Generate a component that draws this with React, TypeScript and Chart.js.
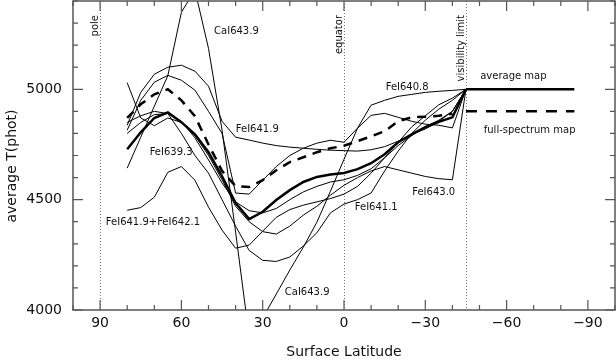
import React, { useEffect, useRef } from 'react';
import { Chart, registerables } from 'chart.js';

Chart.register(...registerables);

// Surface latitude grid (degrees)
const LAT = [80, 75, 70, 65, 60, 55, 50, 45, 40, 35, 30, 25, 20, 15, 10, 5, 0, -5, -10, -15, -20, -25, -30, -35, -40, -45];

// Thick lines
const AVG_MAP = [4728, 4805, 4870, 4895, 4851, 4796, 4715, 4606, 4484, 4412, 4445, 4498, 4543, 4580, 4603, 4614, 4621, 4638, 4665, 4706, 4760, 4796, 4828, 4853, 4873, 5000];
const FULL_SPECTRUM_MAP = [4870, 4932, 4977, 5000, 4950, 4878, 4750, 4630, 4561, 4557, 4588, 4633, 4670, 4692, 4715, 4733, 4744, 4765, 4787, 4810, 4855, 4873, 4876, 4880, 4889, null];

// Thin lines (individual spectral lines)
const CAI_643_9 = [4643, 4783, 4923, 5062, 5349, 5450, 5185, 4815, 4353, 3880, 3964, 4072, 4181, 4285, 4398, 4538, 4683, 4824, 4928, 4950, 4968, 4977, 4986, 4991, 4995, 5000];
const FEI_641_9 = [4837, 4986, 5068, 5100, 5109, 5082, 5014, 4855, 4783, 4770, 4756, 4745, 4738, 4733, 4728, 4724, 4722, 4720, 4726, 4740, 4765, 4796, 4820, 4855, 4900, 5000];
const FEI_640_8 = [4815, 4950, 5032, 5063, 5041, 4996, 4900, 4800, 4530, 4525, 4588, 4650, 4700, 4733, 4756, 4769, 4760, 4824, 4882, 4891, 4873, 4855, 4842, 4837, 4825, 5000];
const FEI_639_3 = [4800, 4850, 4885, 4890, 4855, 4780, 4680, 4575, 4490, 4450, 4440, 4460, 4500, 4535, 4560, 4580, 4590, 4610, 4640, 4690, 4745, 4790, 4830, 4860, 4900, 5000];
const FEI_643_0 = [5030, 4870, 4835, 4870, 4850, 4790, 4700, 4590, 4470, 4400, 4355, 4344, 4380, 4430, 4470, 4520, 4565, 4600, 4630, 4650, 4635, 4620, 4605, 4595, 4590, 5000];
const FEI_641_1 = [4850, 4880, 4900, 4890, 4800, 4700, 4620, 4500, 4380, 4270, 4225, 4220, 4240, 4290, 4350, 4440, 4480, 4500, 4530, 4630, 4720, 4800, 4860, 4910, 4950, 5000];
const FEI_641_9_642_1 = [4452, 4464, 4511, 4624, 4650, 4588, 4466, 4362, 4280, 4294, 4357, 4420, 4455, 4475, 4490, 4505, 4525, 4560, 4620, 4690, 4760, 4830, 4880, 4930, 4960, 5000];

// Legend segments
const LEGEND_LAT = [-45, -85];
const AVG_LEGEND_T = [5000, 5000];
const FULL_LEGEND_T = [4900, 4900];

// Axes
const X_TICKS = [90, 60, 30, 0, -30, -60, -90];
const Y_TICKS = [4000, 4500, 5000];
const X_RANGE = [-100, 100];
const Y_RANGE = [4000, 5400];

// Reference markers
const MARKER_LAT = [90, 0, -45];
const MARKER_TEXT = ['pole', 'equator', 'visibility limit'];

// Line labels (data coordinates)
const LABEL_TEXT = ['CaI643.9', 'FeI641.9', 'FeI639.3', 'FeI641.9+FeI642.1', 'CaI643.9', 'FeI640.8', 'FeI643.0', 'FeI641.1', 'average map', 'full-spectrum map'];
const LABEL_LAT = [39.7, 32.0, 63.8, 70.5, 13.6, -23.3, -33.1, -11.9, -62.5, -68.5];
const LABEL_T = [5262, 4816, 4713, 4396, 4081, 5010, 4532, 4464, 5060, 4812];

const FONT = 'DejaVu Sans';

function pts(lat: number[], vals: (number | null)[]) {
  const out: { x: number; y: number }[] = [];
  lat.forEach((x, i) => {
    const v = vals[i];
    if (v !== null && v !== undefined) out.push({ x, y: v });
  });
  return out;
}

function fmt(v: number) {
  return v < 0 ? '\u2212' + Math.abs(v) : String(v);
}

const decorPlugin = {
  id: 'decor',
  beforeDatasetsDraw(chart: any) {
    const { ctx, chartArea } = chart;
    const xs = chart.scales.x;
    ctx.save();
    ctx.strokeStyle = '#777';
    ctx.lineWidth = 1;
    ctx.setLineDash([1, 2]);
    MARKER_LAT.forEach((lat) => {
      const px = Math.round(xs.getPixelForValue(lat)) + 0.5;
      ctx.beginPath();
      ctx.moveTo(px, chartArea.top);
      ctx.lineTo(px, chartArea.bottom);
      ctx.stroke();
    });
    ctx.restore();
  },
  afterDraw(chart: any) {
    const { ctx, chartArea } = chart;
    const xs = chart.scales.x;
    const ys = chart.scales.y;
    const { left, right, top, bottom } = chartArea;
    ctx.save();
    // frame
    ctx.strokeStyle = '#555';
    ctx.lineWidth = 1.5;
    ctx.setLineDash([]);
    ctx.strokeRect(left, top, right - left, bottom - top);
    // ticks
    ctx.lineWidth = 1.2;
    for (let v = X_RANGE[0]; v <= X_RANGE[1]; v += 10) {
      const px = xs.getPixelForValue(v);
      const len = v % 30 === 0 ? 10 : 5;
      ctx.beginPath();
      ctx.moveTo(px, bottom);
      ctx.lineTo(px, bottom - len);
      ctx.moveTo(px, top);
      ctx.lineTo(px, top + len);
      ctx.stroke();
    }
    for (let v = Y_RANGE[0]; v <= Y_RANGE[1]; v += 100) {
      const py = ys.getPixelForValue(v);
      const len = v % 500 === 0 ? 10 : 5;
      ctx.beginPath();
      ctx.moveTo(left, py);
      ctx.lineTo(left + len, py);
      ctx.moveTo(right, py);
      ctx.lineTo(right - len, py);
      ctx.stroke();
    }
    // marker texts (vertical)
    ctx.fillStyle = '#111';
    ctx.font = `10px "${FONT}"`;
    ctx.textAlign = 'right';
    ctx.textBaseline = 'middle';
    MARKER_LAT.forEach((lat, i) => {
      const px = xs.getPixelForValue(lat);
      ctx.save();
      ctx.translate(px - 5, top + 14);
      ctx.rotate(-Math.PI / 2);
      ctx.fillText(MARKER_TEXT[i], 0, 0);
      ctx.restore();
    });
    // line labels
    ctx.textAlign = 'center';
    ctx.textBaseline = 'middle';
    LABEL_TEXT.forEach((t, i) => {
      ctx.fillText(t, xs.getPixelForValue(LABEL_LAT[i]), ys.getPixelForValue(LABEL_T[i]));
    });
    // axis titles
    ctx.font = `14px "${FONT}"`;
    ctx.fillStyle = '#111';
    ctx.fillText('Surface Latitude', (left + right) / 2, 352);
    ctx.save();
    ctx.translate(12, 166);
    ctx.rotate(-Math.PI / 2);
    ctx.fillText('average T(phot)', 0, 0);
    ctx.restore();
    ctx.restore();
  },
};

function zeroPad(s: any) {
  s.paddingTop = 0;
  s.paddingBottom = 0;
  s.paddingLeft = 0;
  s.paddingRight = 0;
}

export default function App() {
  const ref = useRef<HTMLCanvasElement | null>(null);
  useEffect(() => {
    document.body.style.margin = '0';
    const canvas = ref.current;
    if (!canvas) return;
    const thin = (label: string, vals: (number | null)[]) => ({
      label,
      data: pts(LAT, vals),
      borderColor: '#000',
      borderWidth: 1,
      pointRadius: 0,
      showLine: true,
      tension: 0,
      fill: false,
    });
    const chart = new Chart(canvas, {
      type: 'scatter',
      data: {
        datasets: [
          thin('CaI643.9', CAI_643_9),
          thin('FeI641.9', FEI_641_9),
          thin('FeI640.8', FEI_640_8),
          thin('FeI639.3', FEI_639_3),
          thin('FeI643.0', FEI_643_0),
          thin('FeI641.1', FEI_641_1),
          thin('FeI641.9+FeI642.1', FEI_641_9_642_1),
          {
            label: 'full-spectrum map',
            data: pts(LAT, FULL_SPECTRUM_MAP),
            borderColor: '#000',
            borderWidth: 2.5,
            borderDash: [9, 7],
            pointRadius: 0,
            showLine: true,
            tension: 0,
          },
          {
            label: 'average map',
            data: pts(LAT, AVG_MAP),
            borderColor: '#000',
            borderWidth: 2.5,
            pointRadius: 0,
            showLine: true,
            tension: 0,
          },
          {
            label: 'average map legend',
            data: pts(LEGEND_LAT, AVG_LEGEND_T),
            borderColor: '#000',
            borderWidth: 2.5,
            pointRadius: 0,
            showLine: true,
          },
          {
            label: 'full-spectrum legend',
            data: pts(LEGEND_LAT, FULL_LEGEND_T),
            borderColor: '#000',
            borderWidth: 2.5,
            borderDash: [11, 9],
            pointRadius: 0,
            showLine: true,
          },
        ] as any,
      },
      options: {
        responsive: false,
        animation: false,
        devicePixelRatio: 1,
        layout: { padding: { top: 1, right: 1, left: 0, bottom: 0 } },
        plugins: { legend: { display: false }, tooltip: { enabled: false }, title: { display: false } },
        scales: {
          x: {
            type: 'linear',
            reverse: true,
            min: X_RANGE[0],
            max: X_RANGE[1],
            afterBuildTicks: (s: any) => {
              s.ticks = X_TICKS.map((v) => ({ value: v }));
            },
            afterFit: (s: any) => {
              s.height = 50;
              zeroPad(s);
            },
            ticks: {
              callback: (v: any) => fmt(Number(v)),
              font: { family: FONT, size: 14 },
              color: '#111',
              padding: 5,
              maxRotation: 0,
              autoSkip: false,
            },
            grid: { display: false, drawTicks: false },
            border: { display: false },
          },
          y: {
            type: 'linear',
            min: Y_RANGE[0],
            max: Y_RANGE[1],
            afterBuildTicks: (s: any) => {
              s.ticks = Y_TICKS.map((v) => ({ value: v }));
            },
            afterFit: (s: any) => {
              s.width = 73;
              zeroPad(s);
            },
            ticks: {
              callback: (v: any) => String(v),
              font: { family: FONT, size: 14 },
              color: '#111',
              padding: 11,
              autoSkip: false,
            },
            grid: { display: false, drawTicks: false },
            border: { display: false },
          },
        },
      } as any,
      plugins: [decorPlugin],
    });
    return () => chart.destroy();
  }, []);
  return (
    <div style={{ position: 'absolute', left: 0, top: 0, width: 616, height: 360 }}>
      <canvas ref={ref} width={616} height={360} style={{ width: 616, height: 360, display: 'block' }} />
    </div>
  );
}
